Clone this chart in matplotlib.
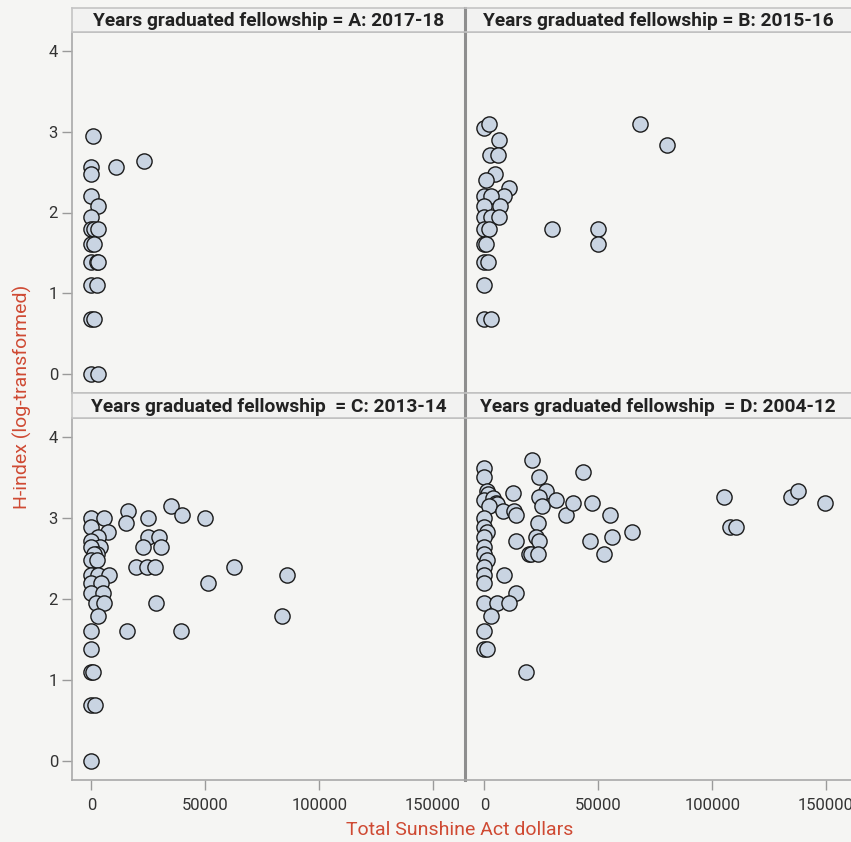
import matplotlib
matplotlib.use("Agg")
import matplotlib.pyplot as plt
from matplotlib import font_manager

# panel A: 2017-18
a_x = [600, 0, 0, 11000, 23200, 0, 3000, 0, 0, 1000, 3000, 0, 1200,
       0, 2300, 3000, 0, 2300, 0, 1000, 0, 3000]
a_y = [2.94, 2.56, 2.48, 2.56, 2.64, 2.20, 2.08, 1.95, 1.79, 1.79, 1.79, 1.61, 1.61,
       1.39, 1.39, 1.39, 1.10, 1.10, 0.69, 0.69, 0.00, 0.00]

# panel B: 2015-16
b_x = [0, 1900, 6600, 2500, 5900, 4800, 700, 11000, 8800, 0, 3000, 0, 7000,
       0, 3000, 6600, 0, 2000, 0, 700, 0, 1500, 0, 0, 3000,
       29800, 50000, 50000, 68300, 80300]
b_y = [3.04, 3.09, 2.89, 2.71, 2.71, 2.48, 2.40, 2.30, 2.20, 2.20, 2.20, 2.08, 2.08,
       1.95, 1.95, 1.95, 1.79, 1.79, 1.61, 1.61, 1.39, 1.39, 1.10, 0.69, 0.69,
       1.79, 1.79, 1.61, 3.09, 2.83]

# panel C: 2013-14
c_x = [0, 5500, 0, 7400, 3000, 0, 4000, 0, 2300, 1000, 0, 2300,
       0, 3000, 7900, 0, 4300, 0, 5000, 2000, 5500, 3000, 0, 0, 0, 800,
       0, 1500, 0,
       16100, 15200, 25000, 35100, 39900, 49800, 25000, 29800, 22600, 30400,
       19600, 24600, 27800, 62500, 51200, 28500, 86000, 83500, 39200, 15800]
c_y = [3.00, 3.00, 2.89, 2.83, 2.77, 2.71, 2.64, 2.64, 2.56, 2.56, 2.48, 2.48,
       2.30, 2.30, 2.30, 2.20, 2.20, 2.08, 2.08, 1.95, 1.95, 1.79, 1.61, 1.39, 1.10, 1.10,
       0.69, 0.69, 0.00,
       3.09, 2.94, 3.00, 3.14, 3.04, 3.00, 2.77, 2.77, 2.64, 2.64,
       2.40, 2.40, 2.40, 2.40, 2.20, 1.95, 2.30, 1.79, 1.61, 1.61]

# panel D: 2004-12
d_x = [0, 0, 21000, 23900, 12500, 1000, 1600, 0, 3700, 5100, 5400, 1900, 8100,
       13200, 13700, 0, 0, 1000, 0, 0, 0, 1000, 0, 0, 0, 8800,
       13700, 23500, 22800, 24200, 19800, 20600, 23500, 27200, 23900, 25400, 31300,
       36000, 13700, 0, 5500, 11000, 2900, 0, 0, 1000, 18400,
       43300, 38900, 47400, 55100, 46300, 56000, 64800, 52600,
       105400, 134400, 137600, 149300, 107600, 110300]
d_y = [3.61, 3.50, 3.71, 3.50, 3.30, 3.33, 3.29, 3.22, 3.24, 3.18, 3.17, 3.14, 3.09,
       3.09, 3.04, 3.00, 2.89, 2.83, 2.77, 2.64, 2.56, 2.48, 2.40, 2.30, 2.20, 2.30,
       2.71, 2.94, 2.77, 2.71, 2.56, 2.56, 2.56, 3.33, 3.26, 3.14, 3.22,
       3.04, 2.08, 1.95, 1.95, 1.95, 1.79, 1.61, 1.39, 1.39, 1.10,
       3.56, 3.18, 3.18, 3.04, 2.71, 2.77, 2.83, 2.56,
       3.26, 3.26, 3.33, 3.18, 2.89, 2.89]

titles = ["Years graduated fellowship = A: 2017-18",
          "Years graduated fellowship = B: 2015-16",
          "Years graduated fellowship  = C: 2013-14",
          "Years graduated fellowship  = D: 2004-12"]
yticks = [0, 1, 2, 3, 4]
xticks = [0, 50000, 100000, 150000]

installed = {f.name for f in font_manager.fontManager.ttflist}
narrow = "Liberation Sans Narrow" if "Liberation Sans Narrow" in installed else "Roboto"

bg = "#f5f5f3"
red = "#cf4a33"
W, H = 851, 842
fig = plt.figure(figsize=(W / 100, H / 100), dpi=100, facecolor=bg)

def frac(x0, y0, x1, y1):
    return [x0 / W, 1 - y1 / H, (x1 - x0) / W, (y1 - y0) / H]

cols = [(72, 465), (465, 858)]
rows = [(32, 393, 8), (418, 780, 393)]
data = [(a_x, a_y), (b_x, b_y), (c_x, c_y), (d_x, d_y)]

for i, (xs, ys) in enumerate(data):
    r, c = divmod(i, 2)
    x0, x1 = cols[c]
    y0, y1, hy = rows[r]
    ax = fig.add_axes(frac(x0, y0, x1, y1))
    ax.set_facecolor(bg)
    ax.scatter(xs, ys, s=120, facecolor="#c9d4e2", edgecolor="#1a1a1a",
               linewidth=1.0, zorder=3, clip_on=False)
    ax.set_xlim(-8500, 164000)
    ax.set_ylim(-0.23, 4.23)
    for side, sp in ax.spines.items():
        sp.set_color("#a9a9a9")
        sp.set_linewidth(1.2)
    if c == 1:
        ax.spines["left"].set_color("#8e8e8e")
        ax.spines["left"].set_linewidth(2.2)
    ax.tick_params(colors="#9a9a9a", labelcolor="#333333", length=7, width=1.0,
                   labelsize=12)
    ax.set_yticks(yticks)
    ax.set_xticks(xticks)
    ax.tick_params(axis="x", pad=6)
    ax.tick_params(axis="y", pad=3)
    if c == 1:
        ax.tick_params(axis="y", left=False, labelleft=False)
    if r == 0:
        ax.tick_params(axis="x", bottom=False, labelbottom=False)
    for lab in ax.get_xticklabels() + ax.get_yticklabels():
        lab.set_family("Roboto")

    hax = fig.add_axes(frac(x0, hy, x1, y0))
    hax.set_facecolor("#f2f2f1")
    hax.set_xticks([])
    hax.set_yticks([])
    for sp in hax.spines.values():
        sp.set_color("#c4c4c4")
        sp.set_linewidth(1.2)
    if c == 1:
        hax.spines["left"].set_color("#8e8e8e")
        hax.spines["left"].set_linewidth(2.2)
    tx = 0.5 if c == 0 else (851 - 465) / 2 / 393
    hax.text(tx, 0.45, titles[i], ha="center", va="center", fontsize=13.8,
             fontweight="bold", color="#222222", family="Roboto",
             transform=hax.transAxes)

fig.text(22 / W, 1 - 397 / H, "H-index (log-transformed)", rotation=90,
         ha="center", va="center", color=red, fontsize=14, family=narrow)
fig.text(460 / W, 1 - 830 / H, "Total Sunshine Act dollars",
         ha="center", va="center", color=red, fontsize=14, family=narrow)

fig.savefig("out.png", dpi=100, facecolor=bg)
